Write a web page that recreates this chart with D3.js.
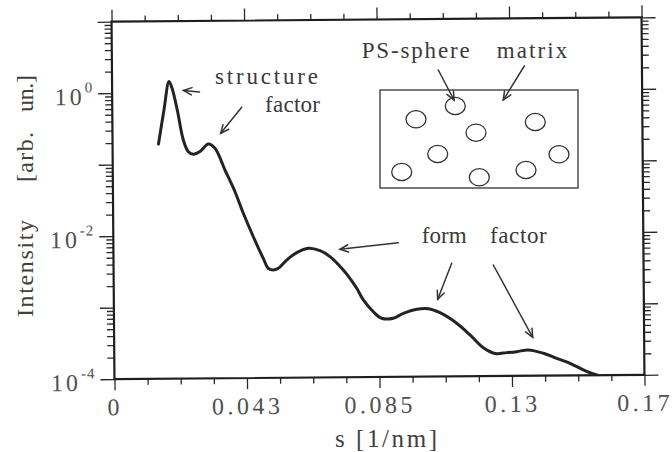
<!DOCTYPE html>
<html>
<head>
<meta charset="utf-8">
<script src="https://cdn.jsdelivr.net/npm/d3@7"></script>
<style>
  html, body { margin: 0; padding: 0; background: #fff; }
  svg { display: block; }
  svg text { font-family: "Liberation Serif", "Times New Roman", Times, serif; }
</style>
</head>
<body>
<svg id="chart" width="672" height="452"></svg>
<script>
// SAXS profile: scattering vector s [1/nm] and intensity [arb. un.]
const sValues = [
  0.01474, 0.01658, 0.01828, 0.01921, 0.02085, 0.02271, 0.02428, 0.02588,
  0.02803, 0.03070, 0.03284, 0.03599, 0.03915, 0.04176, 0.04491, 0.04805,
  0.04962, 0.05122, 0.05283, 0.05555, 0.05879, 0.06251, 0.06627, 0.06944,
  0.07368, 0.07579, 0.07794, 0.08003, 0.08320, 0.08587, 0.08959, 0.09283,
  0.09712, 0.10084, 0.10460, 0.10992, 0.11416, 0.11839, 0.12214, 0.12589,
  0.12910, 0.13282, 0.13764, 0.14190, 0.14617, 0.15040, 0.15361, 0.15500
];
const intensity = [
  0.192, 0.573, 1.435, 1.16, 0.571, 0.217, 0.149, 0.137,
  0.149, 0.190, 0.165, 0.0817, 0.0405, 0.0202, 0.00946, 0.00469,
  0.00341, 0.00323, 0.00340, 0.00443, 0.00560, 0.00643, 0.00593, 0.00488,
  0.00317, 0.00242, 0.00175, 0.00120, 0.000818, 0.000662, 0.000661, 0.000773,
  0.000877, 0.000891, 0.000780, 0.000553, 0.000378, 0.000249, 0.000207, 0.000212,
  0.000218, 0.000230, 0.000206, 0.000174, 0.000148, 0.000119, 0.000104, 0.000100
];

// Axis ticks
const xTickValues = [0, 0.0425, 0.085, 0.1275, 0.17];
const xTickLabels = ["0", "0.043", "0.085", "0.13", "0.17"];
const yDecades = [-4, -3, -2, -1, 0, 1];
const yLabelExponents = [0, -2, -4];

// Axis titles and annotation texts
const xTitle = "s [1/nm]";
const yTitleWords = ["Intensity", "[arb.", "un.]"];
const insetLabels = ["PS-sphere", "matrix"];
const structureLabels = ["structure", "factor"];
const formLabels = ["form", "factor"];

const SERIF = "'Liberation Serif', 'Times New Roman', Times, serif";
const frame = { left: 113, right: 643, top: 19.5, bottom: 377 };
const svg = d3.select("#chart").attr("font-family", SERIF);

const x = d3.scaleLinear().domain([0, 0.17]).range([frame.left, frame.right]);
const y = d3.scaleLog().domain([1e-4, 10]).range([frame.bottom, frame.top]);

const xMinor = d3.range(17).map(i => i * 0.17 / 16).filter((d, i) => i % 4 !== 0);
const yMajor = yDecades.map(e => Math.pow(10, e));
const yMinor = [];
yDecades.slice(0, -1).forEach(e => { for (let m = 2; m <= 9; m++) yMinor.push(m * Math.pow(10, e)); });

// the whole plot sits very slightly tilted on the page
const plot = svg.append("g").attr("transform", "rotate(-0.466, 378, 198)");

function styleAxis(g) {
  g.attr("font-family", SERIF);
  g.select(".domain").remove();
  g.selectAll(".tick line").attr("stroke", "#2a2a2a").attr("stroke-width", 1.3);
}

// x axes (bottom and top), ticks pointing outward
plot.append("g").attr("transform", `translate(0,${frame.bottom})`)
  .call(d3.axisBottom(x).tickValues(xMinor).tickSize(6).tickFormat(""))
  .call(styleAxis);
const xBottom = plot.append("g").attr("transform", `translate(0,${frame.bottom})`)
  .call(d3.axisBottom(x).tickValues(xTickValues).tickSize(11).tickPadding(8)
    .tickFormat((d, i) => xTickLabels[i]))
  .call(styleAxis);
xBottom.selectAll(".tick text")
  .attr("font-size", "24px").attr("fill", "#505050")
  .attr("letter-spacing", "3.5px");

plot.append("g").attr("transform", `translate(0,${frame.top})`)
  .call(d3.axisTop(x).tickValues(xMinor).tickSize(6).tickFormat(""))
  .call(styleAxis);
plot.append("g").attr("transform", `translate(0,${frame.top})`)
  .call(d3.axisTop(x).tickValues(xTickValues).tickSize(12).tickFormat(""))
  .call(styleAxis);

// y axes (left and right), logarithmic
plot.append("g").attr("transform", `translate(${frame.left},0)`)
  .call(d3.axisLeft(y).tickValues(yMinor).tickSize(7).tickFormat(""))
  .call(styleAxis);
const yLeft = plot.append("g").attr("transform", `translate(${frame.left},0)`)
  .call(d3.axisLeft(y).tickValues(yMajor).tickSize(14).tickPadding(5).tickFormat(""))
  .call(styleAxis);
yLeft.selectAll(".tick").each(function (d) {
  const e = Math.round(Math.log10(d));
  const t = d3.select(this).select("text");
  if (!yLabelExponents.includes(e)) { t.remove(); return; }
  t.text(null).attr("dy", "0.46em").attr("font-size", "24px").attr("fill", "#505050");
  t.append("tspan").attr("letter-spacing", "3px").text("10");
  t.append("tspan").attr("dy", -12.5).attr("font-size", "15px").attr("letter-spacing", "1px").text(String(e));
});

plot.append("g").attr("transform", `translate(${frame.right},0)`)
  .call(d3.axisRight(y).tickValues(yMinor).tickSize(7).tickFormat(""))
  .call(styleAxis);
plot.append("g").attr("transform", `translate(${frame.right},0)`)
  .call(d3.axisRight(y).tickValues(yMajor).tickSize(14).tickFormat(""))
  .call(styleAxis);

// frame
plot.append("rect")
  .attr("x", frame.left).attr("y", frame.top)
  .attr("width", frame.right - frame.left).attr("height", frame.bottom - frame.top)
  .attr("fill", "none").attr("stroke", "#1e1e1e").attr("stroke-width", 2.2);

// scattering curve
plot.append("clipPath").attr("id", "plot-clip").append("rect")
  .attr("x", frame.left).attr("y", frame.top)
  .attr("width", frame.right - frame.left).attr("height", frame.bottom - frame.top);

const points = sValues.map((s, i) => [s, intensity[i]]);
const line = d3.line().x(d => x(d[0])).y(d => y(d[1])).curve(d3.curveCatmullRom.alpha(0.5));
plot.append("path").datum(points)
  .attr("clip-path", "url(#plot-clip)")
  .attr("d", line)
  .attr("fill", "none").attr("stroke", "#232323").attr("stroke-width", 3)
  .attr("stroke-linejoin", "round").attr("stroke-linecap", "round");

// axis titles
svg.append("text").attr("x", 335).attr("y", 447)
  .attr("font-size", "25px").attr("fill", "#404040")
  .attr("textLength", 102).attr("lengthAdjust", "spacing")
  .text(xTitle);

const yTitlePlaces = [[317, 97], [182, 50], [112, 37]];
yTitleWords.forEach((w, i) => {
  svg.append("text")
    .attr("transform", `translate(33,${yTitlePlaces[i][0]}) rotate(-90)`)
    .attr("font-size", "24px").attr("fill", "#404040")
    .attr("textLength", yTitlePlaces[i][1]).attr("lengthAdjust", "spacing")
    .text(w);
});

// annotations
const notes = svg.append("g").attr("fill", "#3a3a3a").attr("font-size", "23px");
function label(txt, x0, y0, len) {
  notes.append("text").attr("x", x0).attr("y", y0)
    .attr("textLength", len).attr("lengthAdjust", "spacing").text(txt);
}
label(structureLabels[0], 215, 83.5, 103);
label(structureLabels[1], 265, 111.7, 55);
label(insetLabels[0], 361.7, 58.3, 108);
label(insetLabels[1], 496.7, 58.3, 70.6);
label(formLabels[0], 421.7, 243.3, 45);
label(formLabels[1], 490, 243.3, 56.7);

const arrows = svg.append("g").attr("stroke", "#333").attr("stroke-width", 1.5)
  .attr("fill", "none").attr("stroke-linecap", "round");
function arrow(x1, y1, x2, y2) {
  const a = Math.atan2(y2 - y1, x2 - x1), len = 9, spread = 0.42;
  arrows.append("line").attr("x1", x1).attr("y1", y1).attr("x2", x2).attr("y2", y2);
  arrows.append("path").attr("d",
    `M${x2 - len * Math.cos(a - spread)},${y2 - len * Math.sin(a - spread)}` +
    `L${x2},${y2}L${x2 - len * Math.cos(a + spread)},${y2 - len * Math.sin(a + spread)}`);
}
arrow(199.5, 92, 183.5, 90.5);
arrow(241.7, 107.3, 220.7, 133.3);
arrow(438.3, 70, 454, 100);
arrow(524.3, 66, 503.3, 100);
arrow(398.3, 242.7, 340, 249.3);
arrow(451.7, 263.3, 437.7, 299.3);
arrow(493.3, 265, 532.7, 337.3);

// inset sketch: spheres dispersed in a matrix
const inset = svg.append("g").attr("transform", "translate(380,90)")
  .attr("fill", "none").attr("stroke", "#333").attr("stroke-width", 1.3);
inset.append("rect").attr("width", 198).attr("height", 98);
const sphereCentres = [
  [36, 29.3], [75.3, 16], [96, 42.7], [155.3, 32], [57.7, 64],
  [179, 64.3], [21.7, 82], [99.3, 87.3], [146, 80]
];
inset.selectAll("ellipse").data(sphereCentres).join("ellipse")
  .attr("cx", d => d[0]).attr("cy", d => d[1]).attr("rx", 10).attr("ry", 8.6);
</script>
</body>
</html>
